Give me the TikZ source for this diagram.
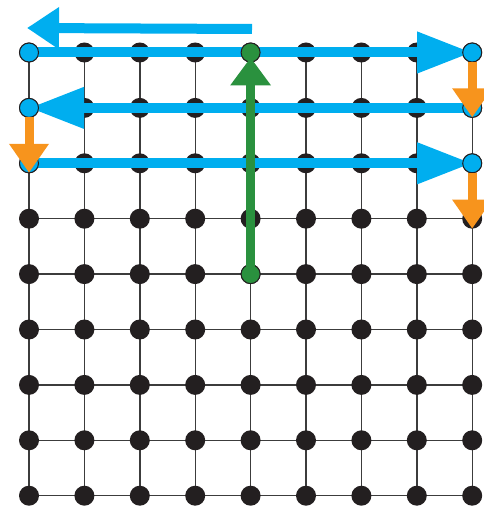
\documentclass[tikz,border=0pt]{standalone}
\usetikzlibrary{arrows.meta,calc}
\definecolor{cblue}{HTML}{00AEEF}
\definecolor{cgreen}{HTML}{2A913E}
\definecolor{corange}{HTML}{F7941D}
\definecolor{cdot}{HTML}{231F20}
\definecolor{cgrid}{HTML}{3C3C3C}
\tikzset{
  gridline/.style={draw=cgrid, line width=1.4pt},
  dot/.style={circle, fill=cdot, minimum size=20pt, inner sep=0pt, outer sep=0pt},
  bluedot/.style={circle, fill=cblue, draw=cdot, line width=1pt, minimum size=19pt, inner sep=0pt, outer sep=0pt},
  greendot/.style={circle, fill=cgreen, draw=cdot, line width=1pt, minimum size=19pt, inner sep=0pt, outer sep=0pt},
  bluearrow/.style={draw=cblue, line width=10pt, -{Triangle[length=55pt,width=39pt]}},
  topbluearrow/.style={draw=cblue, line width=10pt, -{Triangle[length=32pt,width=40pt]}},
  greenarrow/.style={draw=cgreen, line width=9pt, -{Triangle[length=28pt,width=39pt]}},
  orangearrow/.style={draw=corange, line width=9pt, -{Triangle[length=29pt,width=38pt]}}
}
\begin{document}
\begin{tikzpicture}[x=1pt,y=-1pt]
\useasboundingbox (0,0) rectangle (483,510);
% positions
\foreach \i in {0,...,8}{
  \foreach \j in {0,...,8}{
    \coordinate (c-\i-\j) at ({29+55.4*\i},{52.5+55.4*\j});
  }
}
% grid lines
\foreach \j in {0,...,8}{
  \draw[gridline] (c-0-\j) -- (c-8-\j);
}
\foreach \i in {0,...,8}{
  \draw[gridline] (c-\i-0) -- (c-\i-8);
}
% black dots
\foreach \i in {0,...,8}{
  \foreach \j in {0,...,8}{
    \node[dot] (n-\i-\j) at (c-\i-\j) {};
  }
}
% top free arrow
\coordinate (ta) at (252,29);
\coordinate (tb) at (27,28);
\draw[topbluearrow] (ta) -- (tb);
% blue row arrows
\coordinate (r1start) at ($(c-8-1)+(9,0)$);
\draw[bluearrow] (c-0-0) -- (c-8-0);
\draw[bluearrow] (r1start) -- (c-0-1);
\draw[bluearrow] (c-0-2) -- (c-8-2);
% blue dots
\node[bluedot] (b-0-0) at (c-0-0) {};
\node[bluedot] (b-8-0) at (c-8-0) {};
\node[bluedot] (b-0-1) at (c-0-1) {};
\node[bluedot] (b-8-1) at (c-8-1) {};
\node[bluedot] (b-0-2) at (c-0-2) {};
\node[bluedot] (b-8-2) at (c-8-2) {};
% green
\node[greendot] (g-4-0) at (c-4-0) {};
\node[greendot] (g-4-4) at (c-4-4) {};
\coordinate (gtip) at ($(g-4-0.center)+(0,5)$);
\draw[greenarrow] (g-4-4.center) -- (gtip);
% orange
\draw[orangearrow] (b-8-0.south) -- (b-8-1.south);
\draw[orangearrow] (b-0-1.south) -- (b-0-2.south);
\draw[orangearrow] (b-8-2.south) -- (n-8-3.south);
\end{tikzpicture}
\end{document}
